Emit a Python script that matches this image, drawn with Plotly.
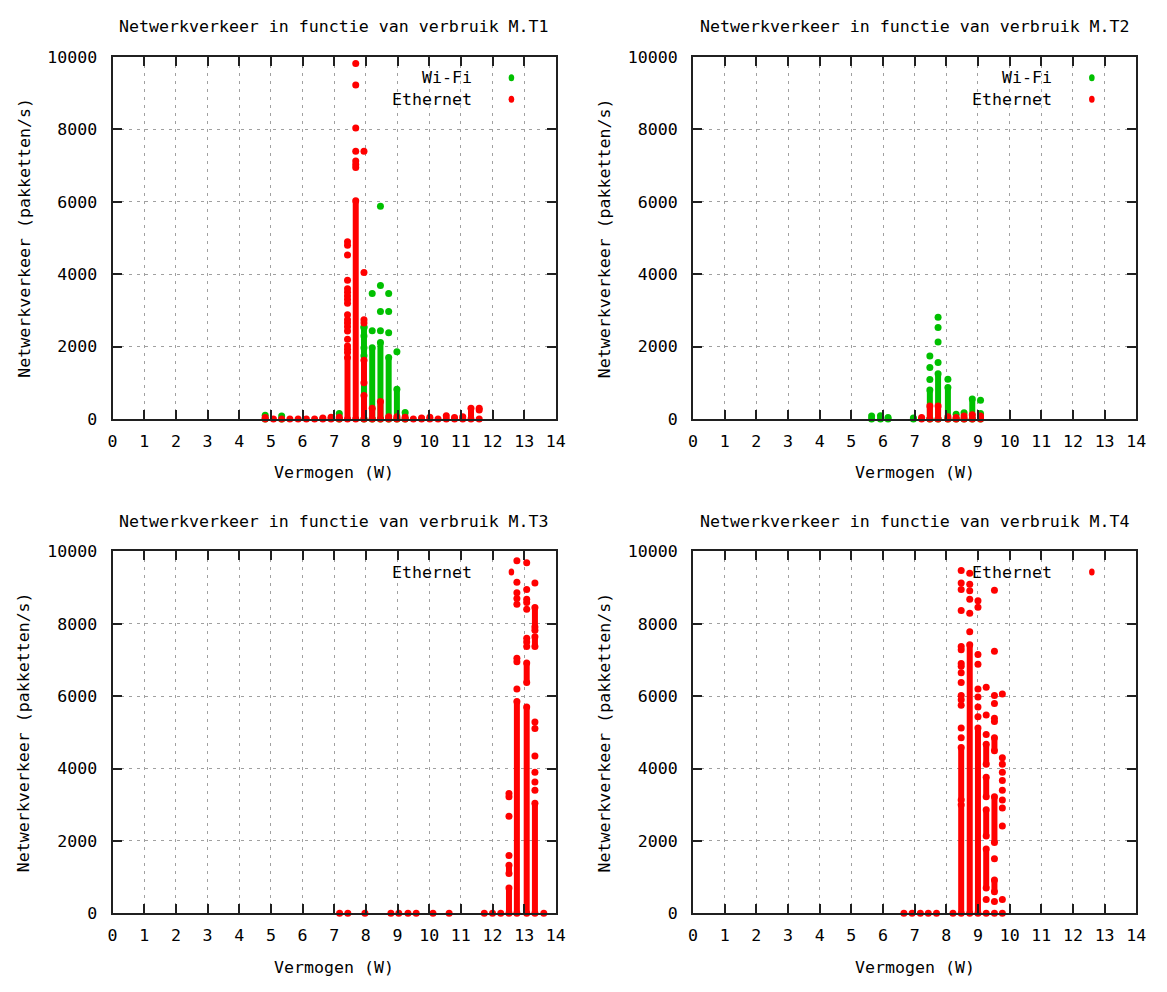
import plotly.graph_objects as go

FIG_W, FIG_H = 1167, 992
RED = "#ff0000"
GREEN = "#00c000"
FONT = "DejaVu Sans Mono"
FSIZE = 16.6

X_TICKS = list(range(0, 15))
X_TICK_TEXT = [str(v) for v in X_TICKS]
Y_TICKS = [0, 2000, 4000, 6000, 8000, 10000]
Y_TICK_TEXT = ["0", "2000", "4000", "6000", "8000", "10000"]
TITLES = [
    "Netwerkverkeer in functie van verbruik M.T1",
    "Netwerkverkeer in functie van verbruik M.T2",
    "Netwerkverkeer in functie van verbruik M.T3",
    "Netwerkverkeer in functie van verbruik M.T4",
]
X_LABEL = "Vermogen (W)"
Y_LABEL = "Netwerkverkeer (pakketten/s)"

# ---------------- M.T1 ----------------
T1_WIFI_SEG_X = [7.16, 7.94, 8.20, 8.46, 8.72, 8.98, 9.24]
T1_WIFI_SEG_LO = [0, 0, 0, 0, 0, 0, 0]
T1_WIFI_SEG_HI = [150, 2550, 1970, 2110, 1700, 820, 180]
T1_WIFI_PT_X = [4.82, 5.34, 7.94, 8.20, 8.46, 8.72, 8.98]
T1_WIFI_PT_Y = [[0, 100], [0, 80], [1750, 1970, 2290, 2520], [2440, 3470],
                [2440, 2970, 3690, 5880], [2380, 2970, 3470], [1860]]

T1_ETH_SEG_X = [7.42, 7.68, 7.94, 7.94, 8.20, 8.46, 11.32]
T1_ETH_SEG_LO = [0, 0, 0, 1000, 0, 0, 0]
T1_ETH_SEG_HI = [1700, 6030, 650, 1620, 300, 480, 300]
T1_ETH_PT_X = [4.82, 5.08, 5.34, 5.60, 5.86, 6.12, 6.38, 6.64, 6.90, 7.16,
               7.42, 7.68, 7.94, 8.72, 8.98, 9.24, 9.50, 9.76, 10.02, 10.28,
               10.54, 10.80, 11.06, 11.58]
T1_ETH_PT_Y = [[0, 40], [0], [0], [0], [0], [0], [0], [0, 30], [0, 50], [0, 50],
               [1840, 1930, 2020, 2200, 2430, 2550, 2650, 2740, 2880, 3200, 3300,
                3400, 3500, 3600, 3830, 4530, 4800, 4900],
               [6950, 7030, 7130, 7400, 8040, 9230, 9820],
               [2650, 2740, 4050, 7400],
               [0, 60], [0, 60], [0, 50], [0], [0, 30], [0, 50], [0],
               [0, 90], [0, 40], [0, 60], [0, 250, 300]]

# ---------------- M.T2 ----------------
T2_WIFI_SEG_X = [7.48, 7.74, 8.05, 8.56, 8.82, 9.08]
T2_WIFI_SEG_LO = [0, 0, 0, 0, 0, 0]
T2_WIFI_SEG_HI = [800, 1250, 870, 170, 550, 150]
T2_WIFI_PT_X = [5.64, 5.92, 6.16, 6.96, 7.48, 7.74, 8.05, 8.31, 9.08]
T2_WIFI_PT_Y = [[0, 80], [0, 90], [0, 40], [0, 30], [1090, 1420, 1740],
                [1560, 2130, 2530, 2810], [1100], [0, 130], [520]]

T2_ETH_SEG_X = [7.48, 7.74, 8.56, 8.82, 9.08]
T2_ETH_SEG_LO = [0, 0, 0, 0, 0]
T2_ETH_SEG_HI = [360, 360, 80, 120, 80]
T2_ETH_PT_X = [7.22, 8.05, 8.31]
T2_ETH_PT_Y = [[0, 40], [0, 60], [0, 40]]

# ---------------- M.T3 ----------------
T3_ETH_SEG_X = [12.52, 12.52, 12.77, 13.08, 13.08, 13.34, 13.34, 13.34]
T3_ETH_SEG_LO = [0, 1100, 0, 0, 6380, 0, 7370, 7910]
T3_ETH_SEG_HI = [700, 1330, 5850, 5700, 6920, 3040, 7640, 8450]
T3_ETH_PT_X = [7.17, 7.43, 7.97, 8.79, 9.04, 9.33, 9.59, 10.12, 10.63, 11.74,
               12.00, 12.26, 12.52, 12.77, 13.08, 13.34, 13.62]
T3_ETH_PT_Y = [[0], [0], [0], [0], [0], [0], [0], [0], [0], [0], [0], [0],
               [1600, 2680, 3220, 3310],
               [6200, 6950, 7050, 8540, 8700, 8860, 9150, 9740, 10010],
               [7370, 7500, 7600, 8400, 8590, 8680, 8950, 9690],
               [3400, 3630, 3900, 4350, 5110, 5290, 7820, 9130],
               [0]]

# ---------------- M.T4 ----------------
T4_ETH_SEG_X = [8.47, 8.47, 8.74, 9.00, 9.26, 9.26, 9.26, 9.26, 9.52, 9.52, 9.52]
T4_ETH_SEG_LO = [0, 3130, 0, 0, 700, 2140, 3220, 4120, 600, 1960, 4490]
T4_ETH_SEG_HI = [3000, 4580, 7420, 5120, 1780, 2860, 3760, 4670, 920, 3220, 4850]
T4_ETH_PT_X = [6.66, 6.92, 7.18, 7.43, 7.69, 8.21, 8.47, 8.74, 9.00, 9.26, 9.52, 9.77]
T4_ETH_PT_Y = [[0], [0], [0], [0], [0], [0],
               [4850, 5120, 5750, 5900, 6020, 6380, 6650, 6830, 6900, 7280, 7370,
                8370, 8950, 9130, 9470],
               [7780, 8290, 8680, 8910, 9090, 9400],
               [5430, 5700, 5980, 6200, 6880, 7150, 8460, 8640],
               [0, 380, 4940, 5480, 6250],
               [0, 330, 1510, 5300, 5390, 5800, 6020, 7240, 8930],
               [0, 380, 2410, 2910, 3130, 3400, 3670, 3900, 4120, 4300, 6060]]

PANELS = [
    dict(series=[("Wi-Fi", GREEN, T1_WIFI_SEG_X, T1_WIFI_SEG_LO, T1_WIFI_SEG_HI, T1_WIFI_PT_X, T1_WIFI_PT_Y),
                 ("Ethernet", RED, T1_ETH_SEG_X, T1_ETH_SEG_LO, T1_ETH_SEG_HI, T1_ETH_PT_X, T1_ETH_PT_Y)],
         legend=[("Wi-Fi", GREEN), ("Ethernet", RED)]),
    dict(series=[("Wi-Fi", GREEN, T2_WIFI_SEG_X, T2_WIFI_SEG_LO, T2_WIFI_SEG_HI, T2_WIFI_PT_X, T2_WIFI_PT_Y),
                 ("Ethernet", RED, T2_ETH_SEG_X, T2_ETH_SEG_LO, T2_ETH_SEG_HI, T2_ETH_PT_X, T2_ETH_PT_Y)],
         legend=[("Wi-Fi", GREEN), ("Ethernet", RED)]),
    dict(series=[("Ethernet", RED, T3_ETH_SEG_X, T3_ETH_SEG_LO, T3_ETH_SEG_HI, T3_ETH_PT_X, T3_ETH_PT_Y)],
         legend=[("Ethernet", RED)]),
    dict(series=[("Ethernet", RED, T4_ETH_SEG_X, T4_ETH_SEG_LO, T4_ETH_SEG_HI, T4_ETH_PT_X, T4_ETH_PT_Y)],
         legend=[("Ethernet", RED)]),
]

# frame pixel boxes (left, top, right, bottom)
BOXES = [(109, 49, 558, 418), (697, 49, 1146, 418),
         (109, 553, 558, 922), (697, 553, 1146, 922)]


def px(x):
    return x / FIG_W


def py(y):
    return 1 - y / FIG_H


fig = go.Figure()
annotations = []
shapes = []
layout_axes = {}
MS = 7

for i, (panel, box) in enumerate(zip(PANELS, BOXES), start=1):
    xa = "x" if i == 1 else f"x{i}"
    ya = "y" if i == 1 else f"y{i}"
    for name, color, sx, slo, shi, ptx, pty in panel["series"]:
        lx, ly = [], []
        for c, lo, hi in zip(sx, slo, shi):
            lx += [c, c, None]
            ly += [lo, hi, None]
        fig.add_trace(go.Scatter(x=lx, y=ly, mode="lines+markers", xaxis=xa, yaxis=ya,
                                 line=dict(color=color, width=6),
                                 marker=dict(color=color, size=MS, symbol="circle", line=dict(width=0)),
                                 cliponaxis=False, showlegend=False, hoverinfo="skip"))
        qx, qy = [], []
        for c, vals in zip(ptx, pty):
            for v in vals:
                qx.append(c)
                qy.append(v)
        fig.add_trace(go.Scatter(x=qx, y=qy, mode="markers", xaxis=xa, yaxis=ya, name=name,
                                 marker=dict(color=color, size=MS, symbol="circle", line=dict(width=0)),
                                 cliponaxis=False, showlegend=False))

    l, t, r, b = box
    axcommon = dict(ticks="inside", ticklen=9, tickwidth=1.5, tickcolor="#202020",
                    showline=True, linecolor="#202020", linewidth=2, mirror="ticks",
                    showgrid=True, gridcolor="#a0a0a0", gridwidth=1, griddash="3px,5px",
                    zeroline=False, tickfont=dict(family=FONT, size=FSIZE, color="black"),
                    fixedrange=True)
    layout_axes["xaxis" if i == 1 else f"xaxis{i}"] = dict(
        domain=[px(l), px(r)], range=[0, 14], tickvals=X_TICKS, ticktext=X_TICK_TEXT,
        anchor=ya, ticklabelstandoff=6, **axcommon)
    layout_axes["yaxis" if i == 1 else f"yaxis{i}"] = dict(
        domain=[py(b), py(t)], range=[0, 10000], tickvals=Y_TICKS, ticktext=Y_TICK_TEXT,
        anchor=xa, ticklabelstandoff=10, **axcommon)

    cx = (l + r) / 2
    annotations.append(dict(text=TITLES[i - 1], x=px(cx), y=py(t - 31), xref="paper", yref="paper",
                            xanchor="center", yanchor="middle", showarrow=False,
                            font=dict(family=FONT, size=FSIZE, color="black")))
    annotations.append(dict(text=X_LABEL, x=px(cx), y=py(b + 55), xref="paper", yref="paper",
                            xanchor="center", yanchor="middle", showarrow=False,
                            font=dict(family=FONT, size=FSIZE, color="black")))
    annotations.append(dict(text=Y_LABEL, x=px(l - 90), y=py((t + b) / 2), xref="paper", yref="paper",
                            xanchor="center", yanchor="middle", showarrow=False, textangle=-90,
                            font=dict(family=FONT, size=FSIZE, color="black")))
    for k, (lab, col) in enumerate(panel["legend"]):
        ry = t + 21 + 22 * k
        annotations.append(dict(text=lab, x=px(l + 366), y=py(ry), xref="paper", yref="paper",
                                xanchor="right", yanchor="middle", showarrow=False,
                                font=dict(family=FONT, size=FSIZE, color="black")))
        shapes.append(dict(type="circle", xref="paper", yref="paper",
                           xsizemode="pixel", ysizemode="pixel",
                           xanchor=px(l + 404), yanchor=py(ry),
                           x0=-2.8, x1=2.8, y0=-3.5, y1=3.5,
                           fillcolor=col, line=dict(width=0)))

fig.update_layout(width=FIG_W, height=FIG_H, margin=dict(l=0, r=0, t=0, b=0),
                  paper_bgcolor="white", plot_bgcolor="white",
                  annotations=annotations, shapes=shapes, showlegend=False,
                  **layout_axes)

fig.write_html("out.html")
